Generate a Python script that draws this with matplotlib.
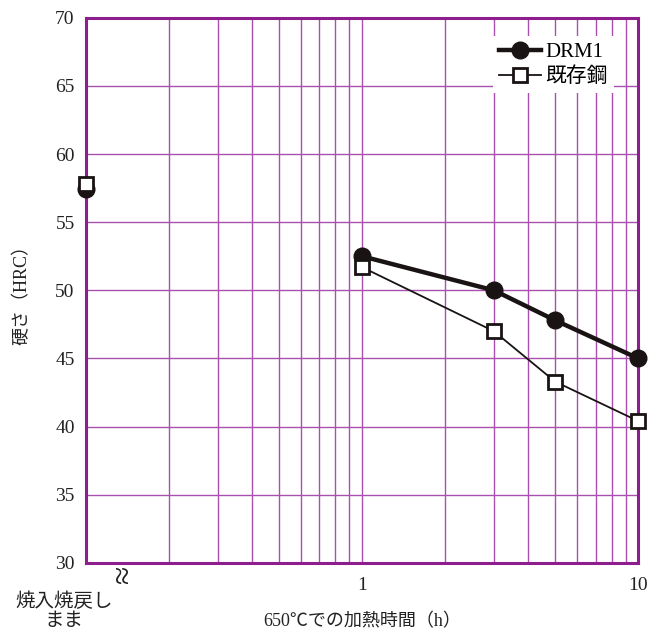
import matplotlib
matplotlib.use("Agg")
import matplotlib.pyplot as plt
from matplotlib.ticker import FixedLocator, NullFormatter

plt.rcParams['font.family'] = ['Liberation Serif', 'Noto Sans CJK JP', 'DejaVu Sans']

# data (x = 0.1 stands for the as-tempered state, not joined to the rest)
hours = [0.1, 1, 3, 5, 10]
drm1 = [57.4, 52.5, 50.0, 47.8, 45.0]
existing = [57.8, 51.7, 47.0, 43.3, 40.4]
yticks = [30, 35, 40, 45, 50, 55, 60, 65, 70]

purple = '#8e1e8e'
grid_purple = '#a94fb0'
ink = '#1a1313'

fig = plt.figure(figsize=(6.5, 6.36), dpi=100)
ax = fig.add_axes([0.132, 0.115, 0.850, 0.857])

ax.set_xscale('log')
ax.set_xlim(0.1, 10)
ax.set_ylim(30, 70)

# grid lines
minor = [m * d for d in (0.1, 1) for m in range(2, 10)] + [1]
for x in minor:
    ax.axvline(x, color=grid_purple, lw=1.0, zorder=1)
for y in yticks[1:-1]:
    ax.axhline(y, color=grid_purple, lw=1.0, zorder=1)

ax.plot(hours[1:], drm1[1:], color=ink, lw=3.2, marker='o', ms=12,
        label='DRM1', zorder=4, clip_on=False)
ax.plot(hours[1:], existing[1:], color=ink, lw=1.3, marker='s', ms=10,
        mfc='white', mec=ink, mew=2, label='既存鋼', zorder=5, clip_on=False)
ax.plot(hours[:1], drm1[:1], color=ink, marker='o', ms=12, ls='none',
        zorder=4, clip_on=False)
ax.plot(hours[:1], existing[:1], marker='s', ms=10, ls='none',
        mfc='white', mec=ink, mew=2, zorder=5, clip_on=False)

for s in ax.spines.values():
    s.set_color(purple)
    s.set_linewidth(2.2)
    s.set_zorder(3)

ax.yaxis.set_major_locator(FixedLocator(yticks))
ax.tick_params(axis='y', length=0, labelsize=14, pad=8, colors='#222222')
ax.xaxis.set_major_locator(FixedLocator([1, 10]))
ax.xaxis.set_minor_formatter(NullFormatter())
ax.set_xticklabels(['1', '10'])
ax.tick_params(axis='x', which='both', length=0, labelsize=14, pad=10, colors='#222222')

ax.set_ylabel('硬さ（HRC）', fontsize=13, color='#222222', labelpad=18)
ax.set_xlabel('650℃での加熱時間（h）', fontsize=13, color='#222222', labelpad=14)

ax.text(-0.04, -0.055, '焼入焼戻し\nまま', transform=ax.transAxes, ha='center', va='top',
        fontsize=14, color='#222222', linespacing=1.15)
ax.text(0.07, -0.022, '≈', transform=ax.transAxes, ha='center', va='center',
        fontsize=24, rotation=90, color='#222222', clip_on=False)

leg = ax.legend(loc='upper right', bbox_to_anchor=(0.975, 0.985), frameon=True,
                fontsize=15, handlelength=2.0, handletextpad=0.2, borderpad=0.3,
                labelspacing=0.25, fancybox=False)
leg.get_frame().set_edgecolor('none')
leg.get_frame().set_facecolor('white')
leg.get_frame().set_alpha(1)
leg.set_zorder(6)

fig.savefig('out.png', dpi=100)
